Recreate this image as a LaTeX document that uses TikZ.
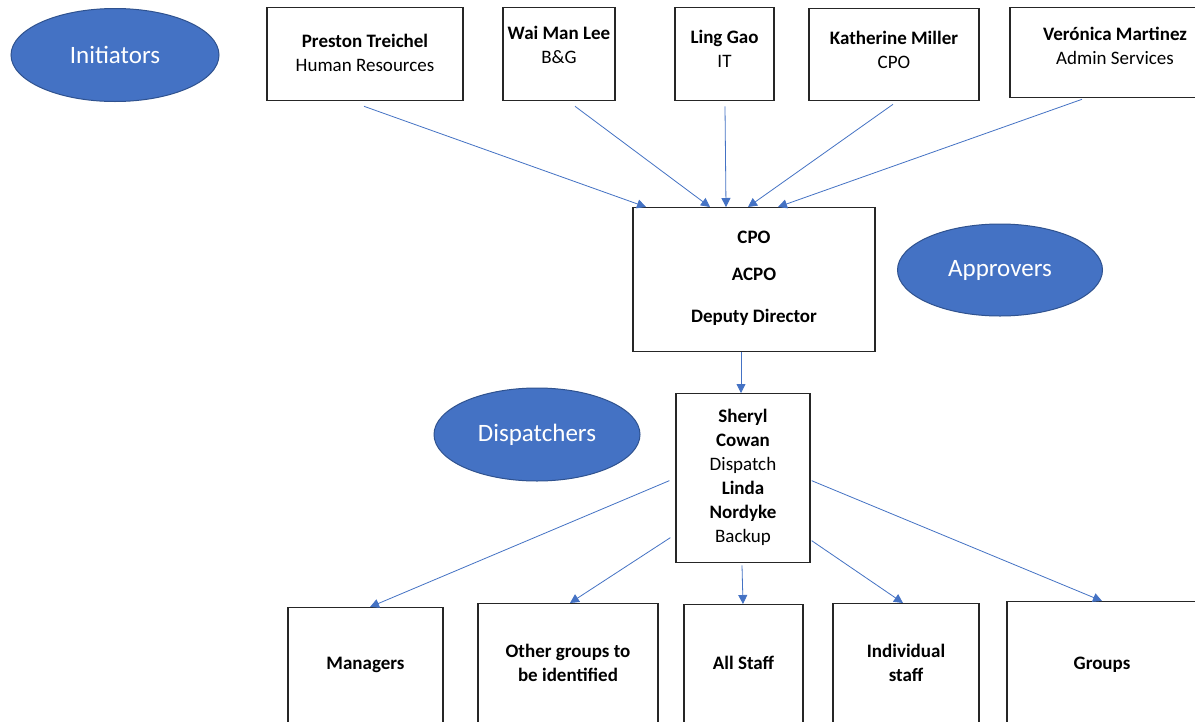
\documentclass[tikz,border=0pt]{standalone}
\usepackage{fontspec}
\setmainfont{Carlito}
\usetikzlibrary{shapes.geometric,arrows.meta,calc}
\definecolor{officeblue}{RGB}{68,114,196}
\definecolor{officeline}{RGB}{47,82,143}
\tikzset{
    person/.style={draw=black!85, line width=1.3pt, align=center, anchor=north, inner xsep=0pt, inner ysep=0pt, font=\fontsize{19}{24}\selectfont},
    target/.style={person, font=\fontsize{19}{24}\selectfont\bfseries, text depth=140pt},
    role/.style={shape=ellipse, fill=officeblue, draw=officeline, line width=1pt, text=white, font=\fontsize{25}{30}\selectfont},
    arr/.style={draw=officeblue, line width=0.8pt, -{Triangle[length=9pt,width=9pt]}},
}
\begin{document}
\begin{tikzpicture}[x=1pt, y=-1pt]
\useasboundingbox (0,0) rectangle (1195,721);
\fill[white] (0,0) rectangle (1195,721);
\clip (0,0) rectangle (1195,721);

\node[role, minimum width=208pt, minimum height=93pt] (init) at (115,55) {Initiators};
\node[role, minimum width=205pt, minimum height=92pt] (appr) at (1000,270) {Approvers};
\node[role, minimum width=206pt, minimum height=93pt] (disp) at (537,434.5) {Dispatchers};

\node[person, minimum width=196pt, text height=64pt, text depth=29pt] (preston) at (365,7) {\textbf{Preston Treichel}\\Human Resources};
\node[person, minimum width=112pt, text height=56pt, text depth=37pt] (wai) at (559,7) {\textbf{Wai Man Lee}\\B\&G};
\node[person, minimum width=99pt, text height=60pt, text depth=33pt] (ling) at (724.5,7) {\textbf{Ling Gao}\\IT};
\node[person, minimum width=170pt, text height=60pt, text depth=32pt] (kath) at (894,8) {\textbf{Katherine Miller}\\CPO};
\node[person, minimum width=210pt, text height=57pt, text depth=33pt] (vero) at (1115,7) {\textbf{Verónica Martinez}\\Admin Services};

\node[person, minimum width=242pt, text height=115pt, text depth=29pt, font=\fontsize{19}{24}\selectfont\bfseries] (cpo) at (754,207) {CPO\\[13pt]ACPO\\[18pt]Deputy Director};
\node[person, minimum width=134pt, text height=149pt, text depth=20pt] (dispatch) at (743,393) {\textbf{Sheryl}\\\textbf{Cowan}\\Dispatch\\\textbf{Linda}\\\textbf{Nordyke}\\Backup};

\node[target, minimum width=155pt, text height=62pt] (mgr) at (365.5,607) {Managers};
\node[target, minimum width=180pt, text height=78pt] (other) at (568,603) {Other groups to\\be identified};
\node[target, minimum width=119pt, text height=65pt] (all) at (743.5,604) {All Staff};
\node[target, minimum width=146pt, text height=78pt] (indiv) at (906,603) {Individual\\staff};
\node[target, minimum width=190pt, text height=68pt] (groups) at (1102,601) {Groups};

\foreach \src/\sx/\sy/\ex in {preston/-1/5/-108, wai/16/5/-44, ling/0.5/5/-28, kath/-1/3/-6, vero/-33/1/24}{
    \draw[arr] ($(\src.south)+(\sx,\sy)$) -- ($(cpo.north)+(\ex,0)$);
}
\draw[arr] ($(cpo.south)+(-13,0)$) -- ($(dispatch.north)+(-2,0)$);

\foreach \a/\sx/\sy/\dst/\ex in {west/-6/2.5/mgr/4.5, west/-5/59.5/other/2, east/1/62.5/indiv/-3, east/1/2.5/groups/0}{
    \draw[arr] ($(dispatch.\a)+(\sx,\sy)$) -- ($(\dst.north)+(\ex,0)$);
}
\draw[arr] ($(dispatch.south)+(-1,2)$) -- ($(all.north)+(-0.5,0)$);
\end{tikzpicture}
\end{document}
